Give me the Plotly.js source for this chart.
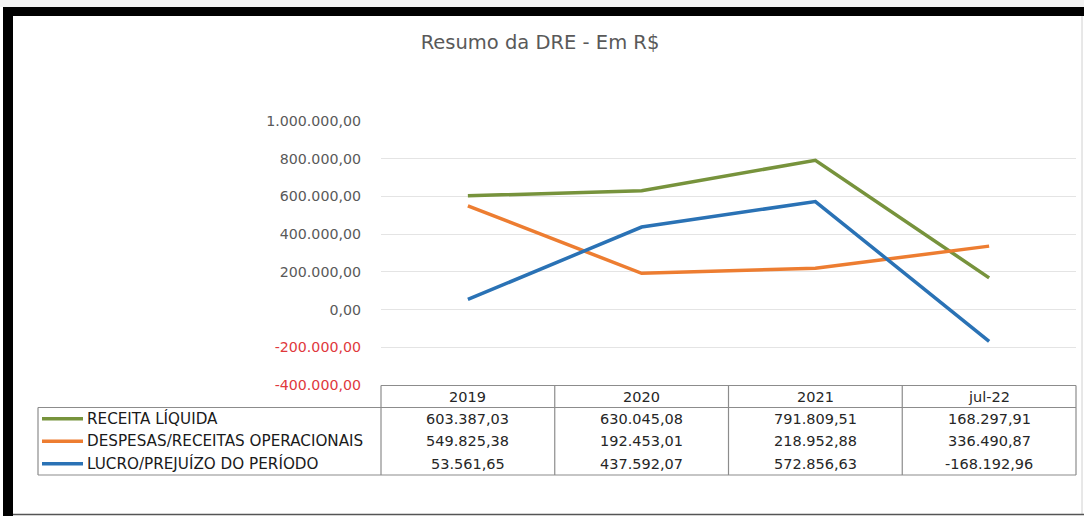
<!DOCTYPE html>
<html>
<head>
<meta charset="utf-8">
<script src="https://cdn.plot.ly/plotly-3.0.1.min.js"></script>
<style>
  html, body { margin: 0; padding: 0; background: #ffffff; }
  #chart { width: 1084px; height: 516px; }
</style>
</head>
<body>
<div id="chart"></div>
<script>
// ---- data ----
const categories = ["2019", "2020", "2021", "jul-22"];
const seriesNames = ["RECEITA LÍQUIDA", "DESPESAS/RECEITAS OPERACIONAIS", "LUCRO/PREJUÍZO DO PERÍODO"];
const receitaLiquida = [603387.03, 630045.08, 791809.51, 168297.91];
const despesasReceitas = [549825.38, 192453.01, 218952.88, 336490.87];
const lucroPrejuizo = [53561.65, 437592.07, 572856.63, -168192.96];
const seriesColors = ["#77933c", "#ed7d31", "#2a72b5"];
const tickValues = [-400000, -200000, 0, 200000, 400000, 600000, 800000, 1000000];
const tickLabels = ["-400.000,00", "-200.000,00", "0,00", "200.000,00", "400.000,00", "600.000,00", "800.000,00", "1.000.000,00"];

const seriesValues = [receitaLiquida, despesasReceitas, lucroPrejuizo];

function fmtBR(v) {
  const neg = v < 0;
  const parts = Math.abs(v).toFixed(2).split(".");
  const intPart = parts[0].replace(/\B(?=(\d{3})+(?!\d))/g, ".");
  return (neg ? "-" : "") + intPart + "," + parts[1];
}

// ---- layout geometry (pixels) ----
const W = 1084, H = 516;
const M = { l: 381, r: 8, t: 121, b: 131 };
const plotW = W - M.l - M.r, plotH = H - M.t - M.b;
const xp = px => (px - M.l) / plotW;
const yp = py => (H - M.b - py) / plotH;

const traces = seriesValues.map((vals, i) => ({
  type: "scatter",
  mode: "lines",
  x: categories,
  y: vals,
  name: seriesNames[i],
  line: { color: seriesColors[i], width: 3.5 },
  hoverinfo: "skip"
}));

const tickText = tickLabels.map((t, i) =>
  tickValues[i] < 0 ? '<span style="color:#e0383c">' + t + '</span>' : t);

const border = "#8c8c8c";
const shapes = [];
const annotations = [];
const tableFont = { family: "DejaVu Sans", size: 14.5, color: "#262626" };

// frame decoration
shapes.push({ type: "rect", xref: "paper", yref: "paper", x0: xp(0), x1: xp(W), y0: yp(7), y1: yp(0), fillcolor: "#f2f2f2", line: { width: 0 } });
shapes.push({ type: "rect", xref: "paper", yref: "paper", x0: xp(3), x1: xp(W), y0: yp(16), y1: yp(7), fillcolor: "#000000", line: { width: 0 } });
shapes.push({ type: "rect", xref: "paper", yref: "paper", x0: xp(3), x1: xp(13), y0: yp(516), y1: yp(7), fillcolor: "#000000", line: { width: 0 } });
shapes.push({ type: "line", xref: "paper", yref: "paper", x0: xp(1082), x1: xp(1082), y0: yp(514), y1: yp(16), line: { color: "#d0d0d0", width: 1 } });
shapes.push({ type: "line", xref: "paper", yref: "paper", x0: xp(13), x1: xp(W), y0: yp(514.5), y1: yp(514.5), line: { color: "#555555", width: 1.5 } });

// data table grid
const tTop = 385.5, tHead = 407.5, tBot = 475, tLeft = 38;
const rowH = (tBot - tHead) / 3;
shapes.push({ type: "line", xref: "paper", yref: "paper", x0: 0, x1: 1, y0: yp(tTop), y1: yp(tTop), line: { color: border, width: 1.2 } });
shapes.push({ type: "line", xref: "paper", yref: "paper", x0: xp(tLeft), x1: 1, y0: yp(tHead), y1: yp(tHead), line: { color: border, width: 1.2 } });
shapes.push({ type: "line", xref: "paper", yref: "paper", x0: xp(tLeft), x1: 1, y0: yp(tBot), y1: yp(tBot), line: { color: border, width: 1.2 } });
shapes.push({ type: "line", xref: "paper", yref: "paper", x0: xp(tLeft), x1: xp(tLeft), y0: yp(tBot), y1: yp(tHead), line: { color: border, width: 1.2 } });
for (let k = 0; k <= categories.length; k++) {
  const xx = k / categories.length;
  shapes.push({ type: "line", xref: "paper", yref: "paper", x0: xx, x1: xx, y0: yp(tBot), y1: yp(tTop), line: { color: border, width: 1.2 } });
}

// header
categories.forEach((c, k) => {
  annotations.push({ xref: "paper", yref: "paper", x: (k + 0.5) / categories.length, y: yp((tTop + tHead) / 2),
    text: c, showarrow: false, xanchor: "center", yanchor: "middle", font: tableFont });
});

// rows
seriesValues.forEach((vals, i) => {
  const cy = tHead + rowH * (i + 0.5);
  shapes.push({ type: "line", xref: "paper", yref: "paper", x0: xp(42), x1: xp(83), y0: yp(cy), y1: yp(cy), line: { color: seriesColors[i], width: 3.5 } });
  annotations.push({ xref: "paper", yref: "paper", x: xp(85), y: yp(cy), text: seriesNames[i], showarrow: false,
    xanchor: "left", yanchor: "middle", font: { family: "DejaVu Sans", size: 15.2, color: "#1a1a1a" } });
  vals.forEach((v, k) => {
    annotations.push({ xref: "paper", yref: "paper", x: (k + 0.5) / categories.length, y: yp(cy),
      text: fmtBR(v), showarrow: false, xanchor: "center", yanchor: "middle", font: tableFont });
  });
});

const layout = {
  width: W, height: H,
  margin: M,
  paper_bgcolor: "#ffffff",
  plot_bgcolor: "#ffffff",
  showlegend: false,
  title: { text: "Resumo da DRE - Em R$", x: 540 / W, xref: "container", xanchor: "center",
    y: 1 - 42 / H, yref: "container", yanchor: "middle",
    font: { family: "DejaVu Sans", size: 19.5, color: "#595959" } },
  xaxis: {
    type: "category",
    range: [-0.5, categories.length - 0.5],
    showticklabels: false, showgrid: false, zeroline: false, showline: false, ticks: "",
    fixedrange: true
  },
  yaxis: {
    range: [-400000, 1000000],
    tickmode: "array", tickvals: tickValues, ticktext: tickText,
    showgrid: true, gridcolor: "#e4e4e4", gridwidth: 1,
    zeroline: false, showline: false, ticks: "",
    ticklabelstandoff: 19,
    tickfont: { family: "DejaVu Sans", size: 14.2, color: "#595959" },
    fixedrange: true
  },
  shapes: shapes,
  annotations: annotations
};

Plotly.newPlot("chart", traces, layout, { displayModeBar: false, staticPlot: true });
</script>
</body>
</html>
